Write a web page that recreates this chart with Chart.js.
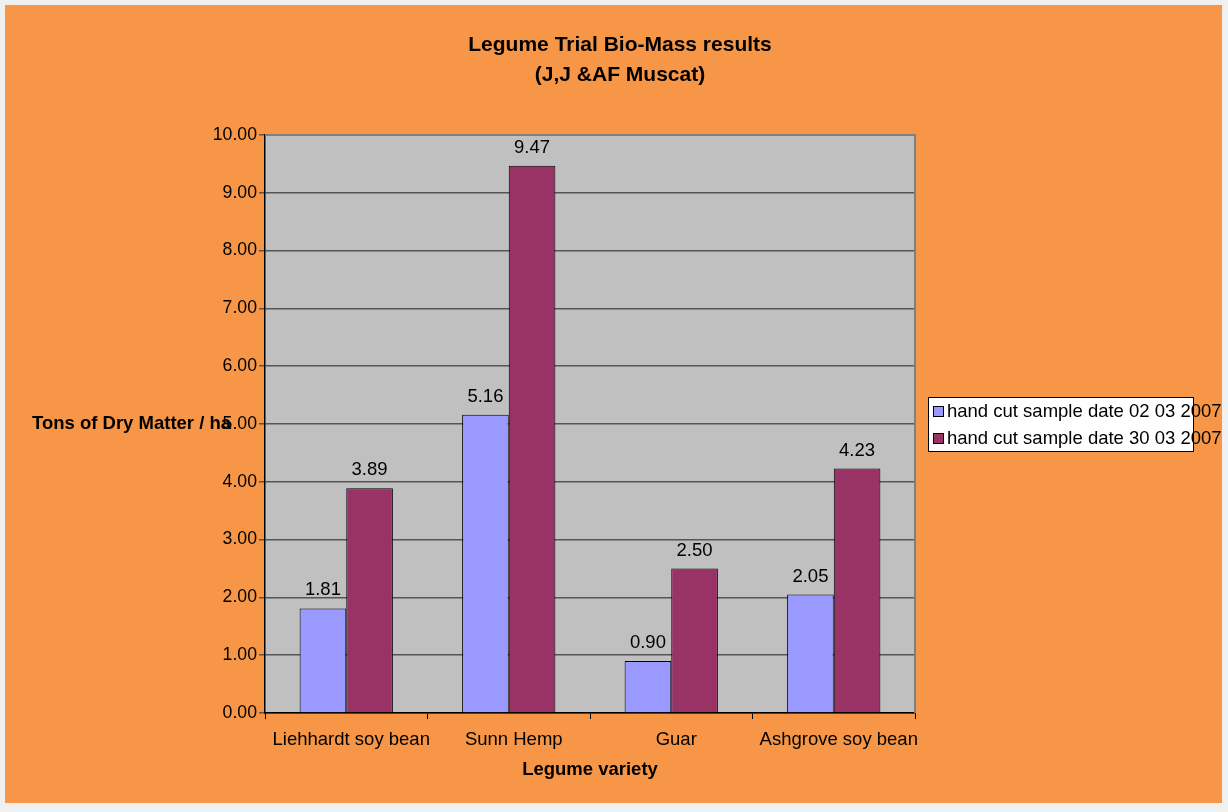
<!DOCTYPE html>
<html>
<head>
<meta charset="utf-8">
<script src="https://cdn.jsdelivr.net/npm/chart.js@4.4.1/dist/chart.umd.min.js"></script>
<style>
  html, body { margin: 0; padding: 0; background: #f0f0f0; }
  #wrap { position: relative; width: 1228px; height: 812px; }
</style>
</head>
<body>
<div id="wrap"><canvas id="myChart" width="1228" height="812"></canvas></div>
<script>
// Dados do gráfico
const variedades = ['Liehhardt soy bean', 'Sunn Hemp', 'Guar', 'Ashgrove soy bean'];
const corte1 = [1.81, 5.16, 0.90, 2.05];
const corte2 = [3.89, 9.47, 2.50, 4.23];
const serieNomes = ['hand cut sample date 02 03 2007', 'hand cut sample date 30 03 2007'];
const yTicks = [0, 1, 2, 3, 4, 5, 6, 7, 8, 9, 10];

const FONT = 'Liberation Sans, Arial, sans-serif';
const FS = 18.5;

// fundo laranja + área do gráfico cinza
const fundo = {
  id: 'fundo',
  beforeDraw(chart) {
    const c = chart.ctx, a = chart.chartArea;
    c.save();
    c.fillStyle = '#f79646';
    c.fillRect(5, 5, 1217, 798);
    c.fillStyle = '#c0c0c0';
    c.fillRect(a.left, a.top, a.right - a.left, a.bottom - a.top);
    c.restore();
  },
  afterDatasetsDraw(chart) {
    const c = chart.ctx, a = chart.chartArea;
    c.save();
    // borda cinza em cima e à direita
    c.strokeStyle = '#808080';
    c.lineWidth = 2;
    c.beginPath();
    c.moveTo(a.left, a.top);
    c.lineTo(a.right, a.top);
    c.lineTo(a.right, a.bottom);
    c.stroke();

    // rótulos dos valores
    c.fillStyle = '#000';
    c.font = FS + 'px ' + FONT;
    c.textAlign = 'center';
    c.textBaseline = 'middle';
    chart.data.datasets.forEach((ds, i) => {
      chart.getDatasetMeta(i).data.forEach((bar, j) => {
        c.fillText(ds.data[j].toFixed(2), bar.x, bar.y - 18);
      });
    });

    // título do eixo Y (horizontal)
    c.font = 'bold ' + FS + 'px ' + FONT;
    c.textAlign = 'left';
    c.fillText('Tons of Dry Matter / ha', 32, 424);

    // título principal
    c.textAlign = 'center';
    c.font = 'bold 21px ' + FONT;
    c.fillText('Legume Trial Bio-Mass results', 620, 45);
    c.fillText('(J,J &AF Muscat)', 620, 75);

    // legenda
    c.fillStyle = '#fff';
    c.fillRect(928, 397, 265, 54);
    c.strokeStyle = '#000';
    c.lineWidth = 1;
    c.strokeRect(928.5, 397.5, 265, 54);
    c.font = FS + 'px ' + FONT;
    c.textAlign = 'left';
    chart.data.datasets.forEach((ds, i) => {
      const y = 411 + i * 27;
      c.fillStyle = ds.backgroundColor;
      c.fillRect(933, y - 5, 10, 10);
      c.strokeStyle = '#000';
      c.strokeRect(933.5, y - 4.5, 10, 10);
      c.fillStyle = '#000';
      c.fillText(ds.label, 947, y + 1);
    });
    c.restore();
  }
};

const data = {
  labels: variedades,
  datasets: [{
    label: serieNomes[0],
    data: corte1,
    backgroundColor: '#9999ff',
    borderColor: '#000',
    borderWidth: 1
  }, {
    label: serieNomes[1],
    data: corte2,
    backgroundColor: '#993366',
    borderColor: '#000',
    borderWidth: 1
  }]
};

const options = {
  responsive: false,
  animation: false,
  layout: { padding: { left: 205, right: 313, top: 135, bottom: 27 } },
  plugins: { legend: { display: false }, title: { display: false }, tooltip: { enabled: false } },
  datasets: { bar: { categoryPercentage: 0.574, barPercentage: 1 } },
  scales: {
    x: {
      grid: { offset: true, drawOnChartArea: false, color: '#000', tickLength: 6 },
      border: { color: '#000', width: 1.5 },
      ticks: { color: '#000', font: { family: FONT, size: FS }, padding: 10, maxRotation: 0, labelOffset: 5 },
      title: { display: true, text: 'Legume variety', color: '#000', font: { family: FONT, size: FS, weight: 'bold' }, padding: { top: 4, bottom: 4 } },
      afterFit(scale) { scale.height = 72; }
    },
    y: {
      min: 0,
      max: 10,
      afterBuildTicks(scale) { scale.ticks = yTicks.map(v => ({ value: v })); },
      grid: { color: '#555', lineWidth: 1.5, tickLength: 6, drawTicks: true },
      border: { color: '#000', width: 1.5 },
      ticks: {
        color: '#000',
        font: { family: FONT, size: 17.7 },
        padding: 2,
        callback: v => Number(v).toFixed(2)
      },
      afterFit(scale) { scale.width = 60; }
    }
  }
};

const ctx = document.getElementById('myChart').getContext('2d');
const myChart = new Chart(ctx, { type: 'bar', data: data, options: options, plugins: [fundo] });
</script>
</body>
</html>
